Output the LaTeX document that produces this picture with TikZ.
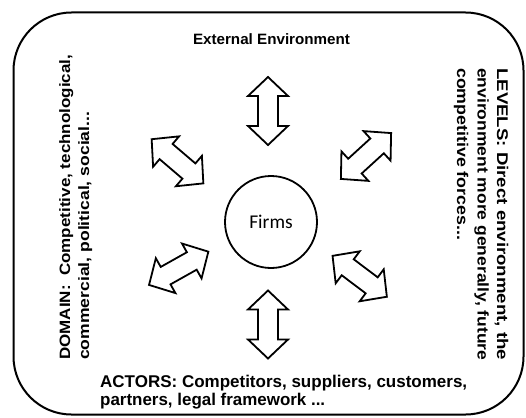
\documentclass[tikz,border=0pt]{standalone}
\usepackage{fontspec}
\usepackage{graphicx}
\setmainfont{Liberation Sans}
\newfontfamily\firmsfont{Carlito}
\newcommand{\fitto}[2]{\resizebox{#1}{\height}{#2}}
\tikzset{
  outerframe/.style={draw=black, line width=2pt, rounded corners=58pt},
  arrowline/.style={draw=black, fill=white, line width=1.8pt, line join=miter},
  dblarrow/.pic={\path[arrowline] (-34,0) -- (-15,20) -- (-15,10) -- (15,10) -- (15,20) -- (34,0) -- (15,-20) -- (15,-10) -- (-15,-10) -- (-15,-20) -- cycle;},
  lbl/.style={inner sep=0pt, font=\bfseries},
  firmsnode/.style={draw=black, line width=1.8pt, circle, minimum size=92pt, inner sep=0pt, font=\firmsfont\fontsize{19.5pt}{22pt}\selectfont}
}
\begin{document}
\begin{tikzpicture}[x=1pt, y=-1pt]
\useasboundingbox (0,0) rectangle (526,417);
\draw[outerframe] (13.5,12.5) rectangle (523.5,414.5);
\node[lbl, anchor=base, font=\bfseries\fontsize{15pt}{18pt}\selectfont] (ext) at (271.5,45) {\fitto{157pt}{External Environment}};
\node[firmsnode] (firms) at (271,222) {Firms};
\pic[rotate=90] (atop) at (268,111) {dblarrow};
\pic[rotate=90] (abot) at (268,324.5) {dblarrow};
\pic[rotate=-40.5] (aul) at (177.5,161.3) {dblarrow};
\pic[rotate=42.4] (aur) at (366,156) {dblarrow};
\pic[rotate=29.3] (all) at (178.7,268.3) {dblarrow};
\pic[rotate=-37] (alr) at (359.7,276.3) {dblarrow};
% left
\node[lbl, rotate=90, anchor=base west, font=\bfseries\fontsize{15pt}{18pt}\selectfont] (dom1) at (70,360) {\fitto{305pt}{DOMAIN:\ \ Competitive, technological,}};
\node[lbl, rotate=90, anchor=base west, font=\bfseries\fontsize{15pt}{18pt}\selectfont] (dom2) at (89,360) {\fitto{248pt}{commercial, political, social...}};
% right
\node[lbl, rotate=-90, anchor=base west, font=\bfseries\fontsize{15.5pt}{18pt}\selectfont] (lev1) at (497,68) {\fitto{292pt}{LEVELS: Direct environment, the}};
\node[lbl, rotate=-90, anchor=base west, font=\bfseries\fontsize{15.5pt}{18pt}\selectfont] (lev2) at (477.5,68) {\fitto{292pt}{environment more generally, future}};
\node[lbl, rotate=-90, anchor=base west, font=\bfseries\fontsize{15.5pt}{18pt}\selectfont] (lev3) at (457,68) {\fitto{172pt}{competitive forces...}};
% bottom
\node[lbl, anchor=base west, font=\bfseries\fontsize{17pt}{20pt}\selectfont] (act1) at (100,387) {\fitto{367pt}{ACTORS: Competitors, suppliers, customers,}};
\node[lbl, anchor=base west, font=\bfseries\fontsize{17pt}{20pt}\selectfont] (act2) at (100,405) {\fitto{225pt}{partners, legal framework ...}};
\end{tikzpicture}
\end{document}
